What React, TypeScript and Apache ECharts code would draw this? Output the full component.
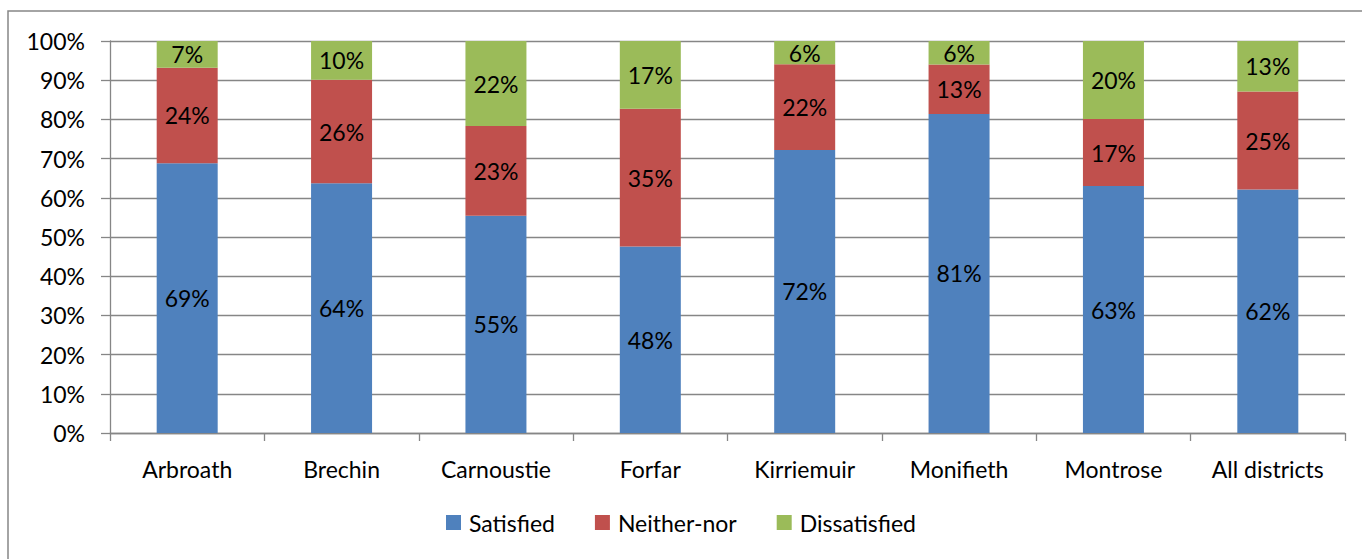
import React, { useEffect, useRef } from "react";
import * as echarts from "echarts";

const categories = ["Arbroath", "Brechin", "Carnoustie", "Forfar", "Kirriemuir", "Monifieth", "Montrose", "All districts"];
const satisfied = [68.8, 63.7, 55.4, 47.6, 72.2, 81.4, 63.0, 62.1];
const neitherNor = [24.4, 26.4, 22.9, 35.1, 21.9, 12.6, 17.1, 25.0];
const dissatisfied = [6.8, 9.9, 21.7, 17.3, 5.9, 6.0, 19.9, 12.9];
const seriesNames = ["Satisfied", "Neither-nor", "Dissatisfied"];
const colors = ["#4F81BD", "#C0504D", "#9BBB59"];

const FONT = "Lato";
const FS = 23;

export default function App() {
  const ref = useRef<HTMLDivElement>(null);
  useEffect(() => {
    if (!ref.current) return;
    const chart = echarts.init(ref.current, null, { renderer: "svg" });
    const data = [satisfied, neitherNor, dissatisfied];
    chart.setOption({
      animation: false,
      textStyle: { fontFamily: FONT },
      graphic: [
        {
          type: "rect",
          shape: { x: 8, y: 11, width: 1370, height: 600 },
          style: { fill: "none", stroke: "#868686", lineWidth: 1.5 },
          silent: true,
        },
      ],
      grid: { left: 110, right: 17, top: 41, bottom: 126 },
      legend: {
        bottom: 20,
        left: "center",
        itemWidth: 15,
        itemHeight: 15,
        itemGap: 40,
        icon: "rect",
        textStyle: { fontFamily: FONT, fontSize: FS, color: "#000", padding: [0, 0, 0, 3] },
        data: seriesNames,
      },
      xAxis: {
        type: "category",
        data: categories,
        axisLine: { lineStyle: { color: "#868686", width: 1.3 } },
        axisTick: { show: true, length: 8, lineStyle: { color: "#868686", width: 1.3 } },
        axisLabel: { fontFamily: FONT, fontSize: FS, color: "#000", margin: 24, interval: 0 },
      },
      yAxis: {
        type: "value",
        min: 0,
        max: 100,
        interval: 10,
        axisLine: { show: true, lineStyle: { color: "#868686", width: 1.3 } },
        axisTick: { show: true, length: 9, lineStyle: { color: "#868686", width: 1.3 } },
        splitLine: { lineStyle: { color: "#868686", width: 1.3 } },
        axisLabel: { fontFamily: FONT, fontSize: FS, color: "#000", margin: 25, formatter: "{value}%" },
      },
      series: seriesNames.map((name, i) => ({
        name,
        type: "bar",
        stack: "total",
        barWidth: 61,
        itemStyle: { color: colors[i] },
        label: {
          show: true,
          position: "inside",
          fontFamily: FONT,
          fontSize: FS,
          color: "#000",
          formatter: (p: any) => Math.round(p.value) + "%",
        },
        data: data[i],
      })),
    });
    return () => chart.dispose();
  }, []);
  return (
    <div
      ref={ref}
      style={{ position: "absolute", left: 0, top: 0, width: 1362, height: 559, background: "#fff" }}
    />
  );
}
